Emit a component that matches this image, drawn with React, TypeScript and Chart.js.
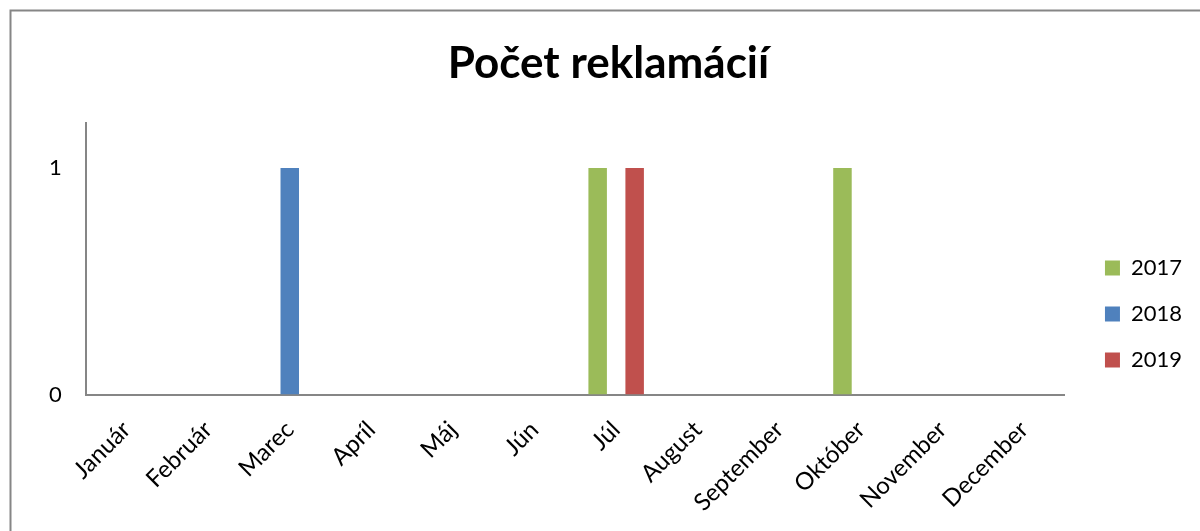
import React, { useEffect, useRef } from "react";
import { Chart, registerables } from "chart.js";

Chart.register(...registerables);

const categories = ["Január", "Február", "Marec", "Apríl", "Máj", "Jún", "Júl", "August", "September", "Október", "November", "December"];
const series2017 = [0, 0, 0, 0, 0, 0, 1, 0, 0, 1, 0, 0];
const series2018 = [0, 0, 1, 0, 0, 0, 0, 0, 0, 0, 0, 0];
const series2019 = [0, 0, 0, 0, 0, 0, 1, 0, 0, 0, 0, 0];
const seriesLabels = ["2017", "2018", "2019"];
const seriesColors = ["#9BBB59", "#4F81BD", "#C0504D"];
const yTicks = [0, 1];
const titleText = "Počet reklamácií";

const FONT = "Lato, 'Open Sans', sans-serif";
const AXIS_COLOR = "#868686";

const frame = {
  id: "frame",
  beforeDraw(chart: any) {
    const ctx = chart.ctx;
    ctx.save();
    ctx.fillStyle = "#ffffff";
    ctx.fillRect(0, 0, chart.width, chart.height);
    ctx.strokeStyle = AXIS_COLOR;
    ctx.lineWidth = 2;
    ctx.strokeRect(10.5, 10.5, chart.width + 100, chart.height + 100);
    ctx.restore();
  },
};

export default function App() {
  const ref = useRef<HTMLCanvasElement>(null);
  useEffect(() => {
    if (!ref.current) return;
    const chart = new Chart(ref.current, {
      type: "bar",
      data: {
        labels: categories,
        datasets: [
          { label: seriesLabels[0], data: series2017, backgroundColor: seriesColors[0] },
          { label: seriesLabels[1], data: series2018, backgroundColor: seriesColors[1] },
          { label: seriesLabels[2], data: series2019, backgroundColor: seriesColors[2] },
        ],
      },
      options: {
        animation: false,
        responsive: false,
        maintainAspectRatio: false,
        layout: { padding: { left: 25, right: 8, top: 22, bottom: -7 } },
        datasets: { bar: { categoryPercentage: 0.68, barPercentage: 1.0 } },
        plugins: {
          title: {
            display: true,
            text: titleText,
            color: "#000",
            font: { family: FONT, size: 44, weight: "bold" },
            padding: { top: 15, bottom: 33 },
          },
          legend: {
            position: "right",
            align: "center",
            title: { display: true, text: "", font: { size: 10 }, padding: { top: 56, bottom: 0 } },
            labels: {
              color: "#000",
              font: { family: FONT, size: 22 },
              boxWidth: 15,
              boxHeight: 15,
              padding: 24,
            },
          },
          tooltip: { enabled: false },
        },
        scales: {
          x: {
            grid: { display: false, drawTicks: false },
            border: { display: true, color: AXIS_COLOR, width: 2 },
            ticks: {
              color: "#000",
              font: { family: FONT, size: 24 },
              maxRotation: 45,
              minRotation: 45,
              padding: 21,
              autoSkip: false,
            },
            afterFit: (s: any) => {
              s.paddingLeft = 0;
              s.paddingRight = 0;
            },
          },
          y: {
            min: 0,
            max: 1.2,
            grid: { display: false, drawTicks: false },
            border: { display: true, color: AXIS_COLOR, width: 2 },
            afterBuildTicks: (axis: any) => {
              axis.ticks = yTicks.map((v) => ({ value: v }));
            },
            ticks: {
              color: "#000",
              font: { family: FONT, size: 22 },
              padding: 24,
            },
          },
          spacer: {
            type: "linear",
            position: "right",
            display: true,
            grid: { display: false, drawTicks: false },
            border: { display: false },
            ticks: { display: false },
            afterFit: (s: any) => {
              s.width = 16;
            },
          },
        },
      },
      plugins: [frame],
    });
    return () => chart.destroy();
  }, []);
  return (
    <div style={{ position: "fixed", left: 0, top: 0, width: 1200, height: 531 }}>
      <canvas ref={ref} width={1200} height={531} style={{ width: 1200, height: 531 }} />
    </div>
  );
}
